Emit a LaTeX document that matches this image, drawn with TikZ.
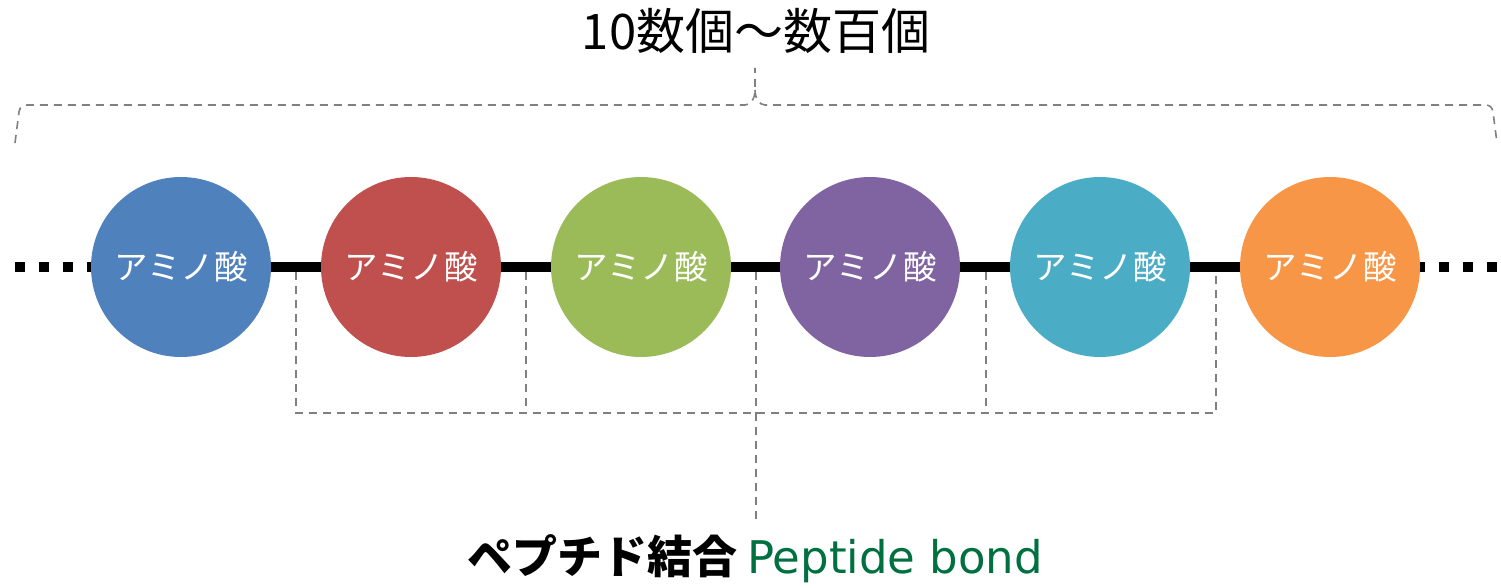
\documentclass[tikz,border=0pt]{standalone}
\usepackage{fontspec}
\newfontfamily\cjk{Noto Sans CJK JP}
\newfontfamily\lat{DejaVu Sans}
\definecolor{cA}{HTML}{4F81BD}
\definecolor{cB}{HTML}{C0504D}
\definecolor{cC}{HTML}{9BBB59}
\definecolor{cD}{HTML}{8064A2}
\definecolor{cE}{HTML}{4BACC6}
\definecolor{cF}{HTML}{F79646}
\definecolor{bondgreen}{RGB}{0,112,64}
\definecolor{dashgray}{RGB}{128,128,128}
\tikzset{
  amino/.style={circle,fill=#1,minimum size=180pt,inner sep=0pt,text=white,font=\cjk\fontsize{33.5pt}{33.5pt}\selectfont},
  chain/.style={line width=10pt,black},
  dotchain/.style={line width=10pt,black,dash pattern=on 10pt off 14pt},
  guide/.style={dashgray,line width=1.6pt,dash pattern=on 8pt off 6pt},
}
\begin{document}
\begin{tikzpicture}[x=1pt,y=-1pt]
\useasboundingbox (0,0) rectangle (1501,588);
% chain
\coordinate (L) at (15,267);
\coordinate (R) at (1497,267);
\foreach \i/\c [count=\n] in {181/cA,411/cB,641/cC,870/cD,1100/cE,1330/cF}{
  \coordinate (p\n) at (\i,267);
}
\draw[dotchain] (L) -- (p1);
\draw[dotchain] (R) -- (p6);
\draw[chain] (p1) -- (p6);
\node[amino=cA] (c1) at (p1) {アミノ酸};
\node[amino=cB] (c2) at (p2) {アミノ酸};
\node[amino=cC] (c3) at (p3) {アミノ酸};
\node[amino=cD] (c4) at (p4) {アミノ酸};
\node[amino=cE] (c5) at (p5) {アミノ酸};
\node[amino=cF] (c6) at (p6) {アミノ酸};
% peptide bond bracket
\foreach \x [count=\k] in {296,526,756,986,1216}{
  \coordinate (b\k) at (\x,272);
  \coordinate (d\k) at (\x,413);
}
\draw[guide] (b1) -- (d1) -- (d5) -- (b5);
\draw[guide] (b2) -- (d2);
\draw[guide] (b3) -- (d3);
\draw[guide] (b4) -- (d4);
\coordinate (lab) at (756,520);
\draw[guide] (d3) -- (lab);
\node[inner sep=0pt] (bond) at (755,559) {\cjk\fontsize{45pt}{45pt}\selectfont\bfseries ペプチド結合 \lat\mdseries\color{bondgreen}Peptide bond};
% top brace
\draw[guide] (15,143) -- (19,112) .. controls (20,107) and (22,105) .. (27,105) -- (745,105)
  .. controls (751,105) and (755,98) .. (755,90) -- (755,68);
\draw[guide] (755,90) .. controls (755,98) and (759,105) .. (765,105) -- (1485,105)
  .. controls (1490,105) and (1492,107) .. (1493,112) -- (1497,143);
\node[inner sep=0pt] (count) at (756,31) {\cjk\fontsize{49pt}{49pt}\selectfont 10数個～数百個};
\end{tikzpicture}
\end{document}
